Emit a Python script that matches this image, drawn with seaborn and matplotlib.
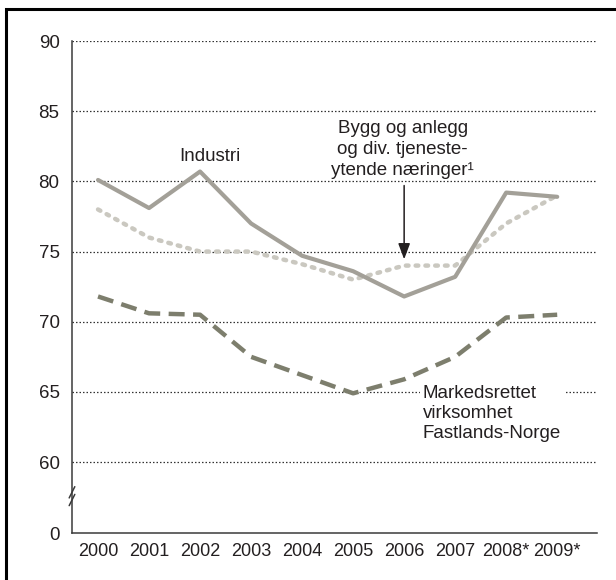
import matplotlib
matplotlib.use("Agg")
import matplotlib.pyplot as plt
import seaborn as sns
import pandas as pd
from matplotlib.patches import Rectangle

years = ["2000", "2001", "2002", "2003", "2004", "2005", "2006", "2007", "2008*", "2009*"]
industri = [80.1, 78.1, 80.7, 77.0, 74.7, 73.6, 71.8, 73.2, 79.2, 78.9]
bygg = [78.0, 76.0, 75.0, 75.0, 74.1, 73.0, 74.0, 74.0, 77.0, 79.0]
markeds = [71.8, 70.6, 70.5, 67.5, 66.2, 64.9, 65.9, 67.5, 70.3, 70.5]
ytick_values = [60, 65, 70, 75, 80, 85, 90]
ytick_labels = ["60", "65", "70", "75", "80", "85", "90"]

sns.set_theme(style="white")
plt.rcParams["font.family"] = ["Liberation Sans", "DejaVu Sans"]

df = pd.DataFrame({
    "x": list(range(len(years))) * 3,
    "value": industri + bygg + markeds,
    "series": ["Industri"] * len(years) + ["Bygg"] * len(years) + ["Markeds"] * len(years),
})

fig = plt.figure(figsize=(6.16, 5.80), dpi=100)
ax = fig.add_axes([72 / 616, 1 - 533 / 580, (597 - 72) / 616, (533 - 41) / 580])

text_col = "#231f20"
fs = 13.5
ax.set_ylim(54.95, 90)
ax.set_xlim(-0.51, 9.78)

# grid lines
for v in ytick_values:
    ax.axhline(v, color="#333333", lw=0.9, ls=(0, (1.2, 1.6)), zorder=1)

palette = {"Industri": "#a3a098", "Bygg": "#cac8c0", "Markeds": "#7d7e6d"}
sns.lineplot(data=df[df.series == "Bygg"], x="x", y="value", color=palette["Bygg"],
             lw=3.2, ax=ax, zorder=3, legend=False)
ax.lines[-1].set_linestyle((0, (0.6, 1.6)))
ax.lines[-1].set_dash_capstyle("round")
sns.lineplot(data=df[df.series == "Industri"], x="x", y="value", color=palette["Industri"],
             lw=3.0, ax=ax, zorder=4, legend=False)
sns.lineplot(data=df[df.series == "Markeds"], x="x", y="value", color=palette["Markeds"],
             lw=3.2, ax=ax, zorder=4, legend=False)
ax.lines[-1].set_linestyle((0, (3.6, 1.9)))

ax.set_xlabel("")
ax.set_ylabel("")
ax.set_yticks([54.95] + ytick_values)
ax.set_yticklabels(["0"] + ytick_labels, fontsize=fs, color=text_col)
ax.set_xticks(range(len(years)))
ax.set_xticklabels(years, fontsize=13, color=text_col)
ax.tick_params(axis="y", length=0, pad=9)
ax.tick_params(axis="x", direction="in", length=12, width=1, color="#3a3a3a", pad=7)

for s in ["top", "right"]:
    ax.spines[s].set_visible(False)
for s in ["left", "bottom"]:
    ax.spines[s].set_color("#3a3a3a")
    ax.spines[s].set_linewidth(1.1)

# axis break marks
for dy in (0, 0.55):
    ax.plot([-0.565, -0.455], [56.9 + dy, 57.7 + dy], color="#3a3a3a", lw=1.1,
            clip_on=False, zorder=6)

# annotations
ax.text(2.2, 81.8, "Industri", fontsize=fs, color=text_col, ha="center", va="center")
ax.text(5.97, 82.25, "Bygg og anlegg\nog div. tjeneste-\nytende næringer\u00b9", fontsize=fs,
        color=text_col, ha="center", va="center", linespacing=1.3)
ax.annotate("", xy=(6, 74.25), xytext=(6, 79.9),
            arrowprops=dict(arrowstyle="-|>,head_length=0.8,head_width=0.3", color=text_col, lw=1.1),
            zorder=6)
ax.text(6.36, 63.45, "Markedsrettet\nvirksomhet\nFastlands-Norge", fontsize=fs, color=text_col,
        ha="left", va="center", linespacing=1.25, zorder=5,
        bbox=dict(facecolor="white", edgecolor="none", pad=2))

# outer frame
fig.patches.append(Rectangle((6 / 616, -0.1), 1.2, 1.1 - 9 / 580, transform=fig.transFigure,
                             fill=False, edgecolor="black", lw=2.2))

fig.savefig("out.png", dpi=100)
